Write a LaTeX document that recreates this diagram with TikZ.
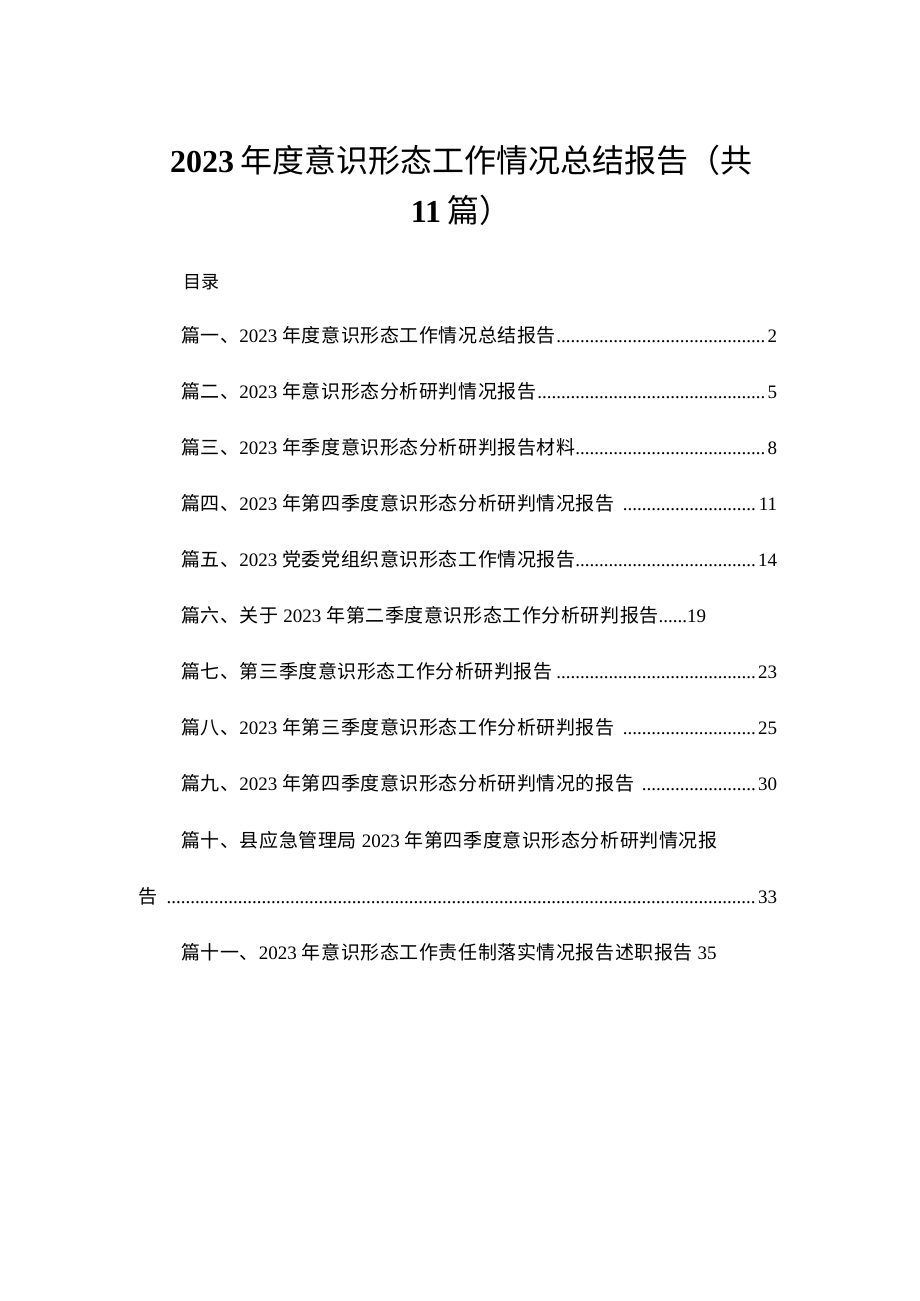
\documentclass[tikz,border=0pt]{standalone}
\usepackage{fontspec}
\setmainfont{Liberation Serif}
\newfontfamily\cjk[LetterSpace=3]{Noto Sans CJK SC}
\newfontfamily\cjkt{Noto Sans CJK SC}
\newcommand{\dl}{\leaders\hbox{.}\hfill}
\newcommand{\gp}{\hspace{5pt}}
\begin{document}
\begin{tikzpicture}[x=1pt,y=-1pt,
  ent/.style={anchor=base west,inner sep=0pt,font=\fontsize{19}{22}\selectfont,text width=596pt,align=left},
  free/.style={anchor=base west,inner sep=0pt,font=\fontsize{19}{22}\selectfont}]
\useasboundingbox[fill=white] (0,0) rectangle (920,1301);
\node[inner sep=0pt,font=\fontsize{32}{40}\selectfont] (t1) at (461,160) {\textbf{2023}\hspace{6pt}{\cjkt 年度意识形态工作情况总结报告（共}};
\node[inner sep=0pt,font=\fontsize{32}{40}\selectfont] (t2) at (461,210) {\textbf{11}\hspace{6pt}{\cjkt 篇）}};
\node[free,font=\fontsize{18}{22}\selectfont] (ml) at (183,288) {\cjk 目录};
\node[ent] (e1) at (181,342) {{\cjk 篇一、}2023\gp{\cjk 年度意识形态工作情况总结报告}\dl 2};
\node[ent] (e2) at (181,398) {{\cjk 篇二、}2023\gp{\cjk 年意识形态分析研判情况报告}\dl 5};
\node[ent] (e3) at (181,454) {{\cjk 篇三、}2023\gp{\cjk 年季度意识形态分析研判报告材料}\dl 8};
\node[ent] (e4) at (181,510) {{\cjk 篇四、}2023\gp{\cjk 年第四季度意识形态分析研判情况报告}\gp\dl 11};
\node[ent] (e5) at (181,566) {{\cjk 篇五、}2023\gp{\cjk 党委党组织意识形态工作情况报告}\dl 14};
\node[free] (e6) at (181,622) {{\cjk 篇六、关于}\gp 2023\gp{\cjk 年第二季度意识形态工作分析研判报告}......19};
\node[ent] (e7) at (181,678) {{\cjk 篇七、第三季度意识形态工作分析研判报告}\dl 23};
\node[ent] (e8) at (181,734) {{\cjk 篇八、}2023\gp{\cjk 年第三季度意识形态工作分析研判报告}\gp\dl 25};
\node[ent] (e9) at (181,790) {{\cjk 篇九、}2023\gp{\cjk 年第四季度意识形态分析研判情况的报告}\gp\dl 30};
\node[free] (e10) at (181,847) {{\cjk 篇十、县应急管理局}\gp 2023\gp{\cjk 年第四季度意识形态分析研判情况报}};
\node[ent,text width=639pt] (e10b) at (138,903) {{\cjk 告}\gp\dl 33};
\node[free] (e11) at (181,959) {{\cjk 篇十一、}2023\gp{\cjk 年意识形态工作责任制落实情况报告述职报告}\gp 35};
\end{tikzpicture}
\end{document}
